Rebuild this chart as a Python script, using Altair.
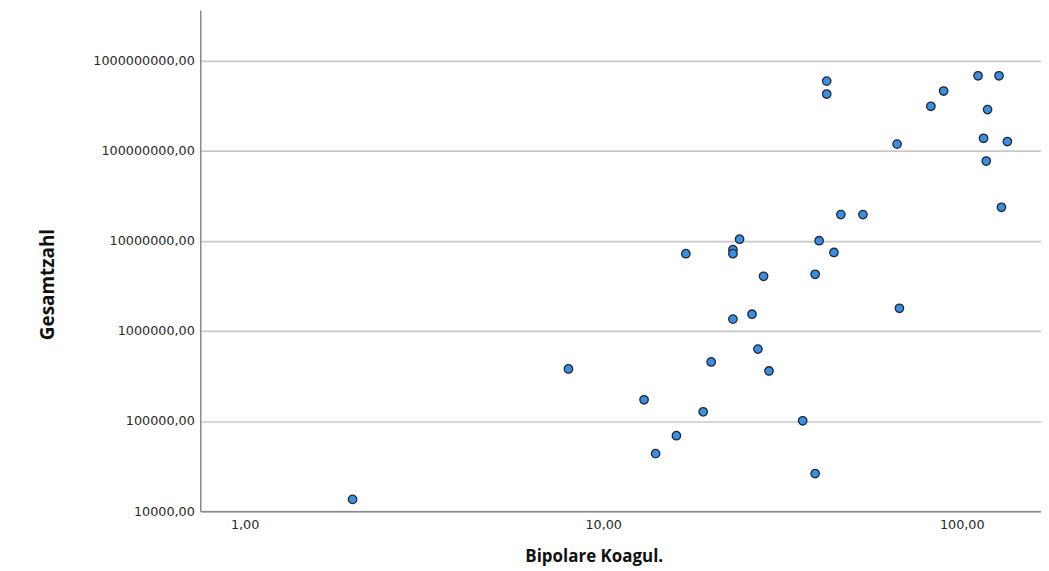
import altair as alt
import pandas as pd

# Bipolare Koagul. (x) and Gesamtzahl (y)
koagul = [2, 8, 13, 14, 16, 17, 19, 20, 23, 23, 23, 24, 26, 27, 28, 29, 36, 39,
          39, 40, 42, 42, 44, 46, 53, 66, 67, 82, 89, 111, 127, 118, 115, 134,
          117, 129]
gesamt = [13500, 378000, 172000, 43400, 68700, 7180000, 126500, 452000,
          1350000, 7950000, 7180000, 10400000, 1530000, 628000, 4030000,
          359000, 100600, 26100, 4240000, 10000000, 590000000, 424000000,
          7410000, 19500000, 19500000, 118000000, 1780000, 310000000,
          458000000, 676000000, 676000000, 285000000, 137000000, 126000000,
          76500000, 23500000]

x_ticks = [1, 10, 100]
y_ticks = [10000, 100000, 1000000, 10000000, 100000000, 1000000000]

df = pd.DataFrame({"koagul": koagul, "gesamt": gesamt})

label_expr = "replace(format(datum.value, '.2f'), '.', ',')"

chart = alt.Chart(df).mark_circle(
    size=72, color="#3c8ee2", stroke="#1f2a36", strokeWidth=1.3, opacity=1
).encode(
    x=alt.X(
        "koagul:Q",
        scale=alt.Scale(type="log", domain=[0.752, 166.3], nice=False),
        axis=alt.Axis(
            values=x_ticks, labelExpr=label_expr, grid=False, ticks=False,
            domainColor="#8a8a8a", domainWidth=1.5,
            labelFont="DejaVu Sans", labelFontSize=12.8, labelColor="#2a2a2a",
            labelPadding=7,
            title="Bipolare Koagul.", titleFont="Open Sans", titleFontSize=17,
            titleFontWeight="bold", titleColor="#111111",
            titleX=395, titleY=46, titleAnchor="start", titleAlign="center",
            titleBaseline="middle",
        ),
    ),
    y=alt.Y(
        "gesamt:Q",
        scale=alt.Scale(type="log", domain=[10000, 3.62e9], nice=False),
        axis=alt.Axis(
            values=y_ticks, labelExpr=label_expr, grid=True,
            gridColor="#c8c8c8", gridWidth=1.7, ticks=False,
            domainColor="#8a8a8a", domainWidth=1.5,
            labelFont="DejaVu Sans", labelFontSize=12.8, labelColor="#2a2a2a",
            labelPadding=6,
            title="Gesamtzahl", titleFont="Open Sans", titleFontSize=19,
            titleFontWeight="bold", titleColor="#111111",
            titleX=-153, titleY=275, titleAngle=270, titleAlign="center",
            titleBaseline="middle",
        ),
    ),
).properties(
    width=844,
    height=503,
    autosize=alt.AutoSizeParams(type="none"),
    padding={"left": 193, "top": 1, "right": 0, "bottom": 58},
    background="white",
).configure_view(strokeWidth=0)

chart.save("out.html", embed_options={"renderer": "svg", "actions": False})
